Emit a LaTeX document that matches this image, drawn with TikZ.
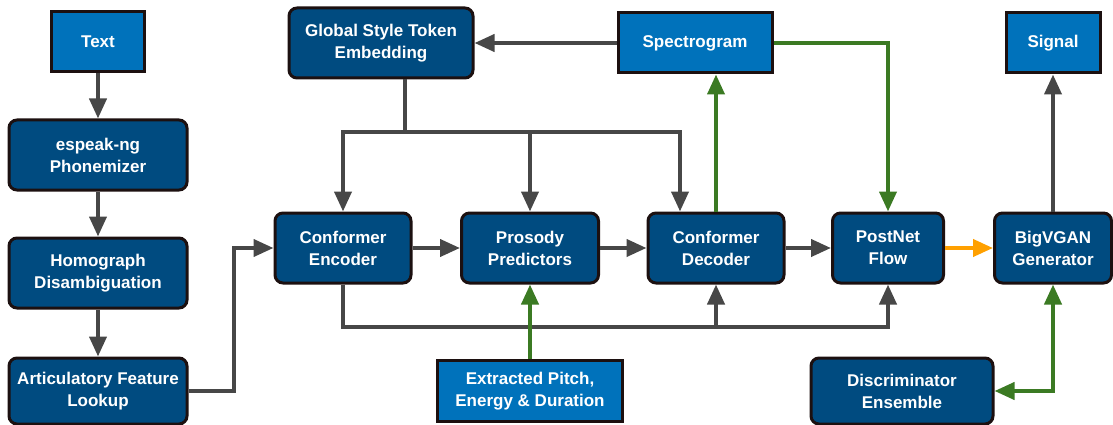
\documentclass[tikz,border=0pt]{standalone}
\usepackage{fontspec}
\setmainfont{Liberation Sans}
\usetikzlibrary{arrows.meta}

\definecolor{darkblue}{RGB}{0,75,128}
\definecolor{lightblue}{RGB}{0,114,187}
\definecolor{boxline}{RGB}{28,16,16}
\definecolor{flowgray}{RGB}{71,71,71}
\definecolor{flowgreen}{RGB}{59,122,35}
\definecolor{floworange}{RGB}{255,160,0}

\begin{document}
\begin{tikzpicture}[x=1pt,y=-1pt]
	\tikzstyle{every node}+=[inner sep=0pt]
	\tikzstyle{box}=[draw=boxline, line width=3pt, rounded corners=8pt, fill=darkblue, text=white, align=center, font=\bfseries\fontsize{17}{22}\selectfont, minimum height=70pt]
	\tikzstyle{io}=[box, rounded corners=0pt, fill=lightblue, minimum height=60pt]
	\tikzstyle{flow}=[draw=flowgray, line width=4pt, -{Triangle[length=20pt,width=17pt]}]
	\tikzstyle{gflow}=[flow, draw=flowgreen, -{Triangle[length=20pt,width=17pt,color=flowgreen]}]
	\tikzstyle{oflow}=[flow, draw=floworange, -{Triangle[length=20pt,width=17pt,color=floworange]}]
	\useasboundingbox (0,0) rectangle (1113,425);
	% text front end
	\node [io, minimum width=93pt] (text) at (98,42) {Text};
	\node [box, minimum width=178pt] (phon) at (98,155) {espeak-ng\\Phonemizer};
	\node [box, minimum width=178pt] (homo) at (98,273) {Homograph\\Disambiguation};
	\node [box, minimum width=178pt, minimum height=66pt] (artic) at (98,391) {Articulatory Feature\\Lookup};
	% acoustic model
	\node [box, minimum width=184pt] (gst) at (381,43) {Global Style Token\\Embedding};
	\node [io, minimum width=154pt] (spec) at (695,43) {Spectrogram};
	\node [box, minimum width=136pt] (enc) at (343,248) {Conformer\\Encoder};
	\node [box, minimum width=137pt] (pros) at (530,248) {Prosody\\Predictors};
	\node [box, minimum width=136pt] (dec) at (716,248) {Conformer\\Decoder};
	\node [box, minimum width=111pt] (post) at (888,248) {PostNet\\Flow};
	\node [io, minimum width=185pt, minimum height=61pt] (pitch) at (530,391) {Extracted Pitch,\\Energy \& Duration};
	% vocoder
	\node [io, minimum width=94pt] (signal) at (1053,43) {Signal};
	\node [box, minimum width=117pt] (vgan) at (1053,248) {BigVGAN\\Generator};
	\node [box, minimum width=182pt, minimum height=66pt] (disc) at (902,391) {Discriminator\\Ensemble};
	\coordinate (split) at (405,132);
	\coordinate (bus) at (716,327);

	\draw [flow] (text) -- (phon);
	\draw [flow] (phon) -- (homo);
	\draw [flow] (homo) -- (artic);
	\draw [flow] (artic.east) -- ++(45,0) |- (enc.west);
	\draw [flow] (spec) -- (gst);
	\draw [flow] (gst.south -| split) -- (split) -| (enc.north);
	\draw [flow] (split) -| (pros.north);
	\draw [flow] (split) -| ([xshift=-36pt]dec.north);
	\draw [flow] (enc) -- (pros);
	\draw [flow] (pros) -- (dec);
	\draw [flow] (dec) -- (post);
	\draw [flow] (enc.south) |- (bus) -| (post.south);
	\draw [flow] (bus) -- (dec.south);
	\draw [gflow] (dec.north) -- (dec.north |- spec.south);
	\draw [gflow] (spec.east) -| (post.north);
	\draw [gflow] (pitch) -- (pros);
	\draw [oflow] (post) -- (vgan);
	\draw [flow] (vgan) -- (signal);
	\draw [gflow, {Triangle[length=20pt,width=17pt,color=flowgreen]}-{Triangle[length=20pt,width=17pt,color=flowgreen]}] (disc.east) -| (vgan.south);
\end{tikzpicture}
\end{document}
